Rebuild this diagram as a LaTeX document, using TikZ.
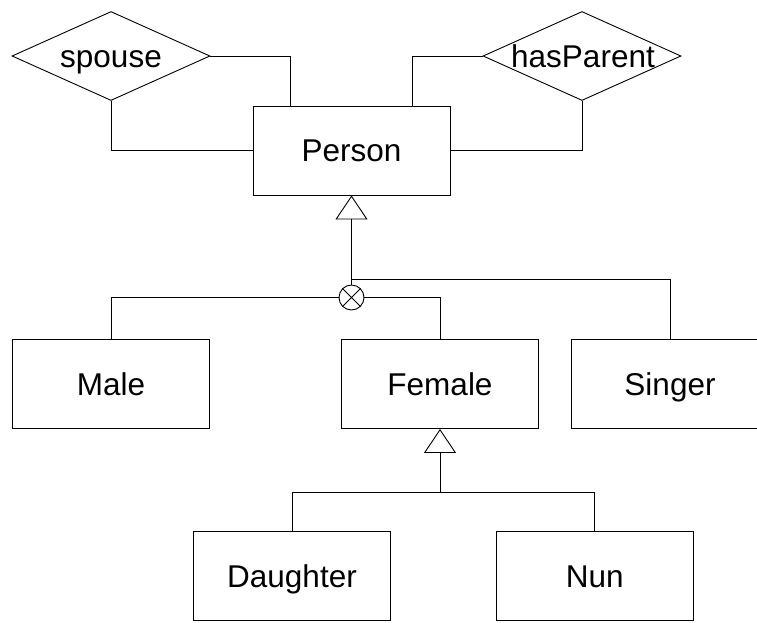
\documentclass[tikz,border=0pt]{standalone}
\usepackage{fontspec}
\setmainfont{Liberation Sans}
\usetikzlibrary{shapes.geometric,arrows.meta}
\tikzset{
  ent/.style={draw, rectangle, inner sep=0pt, minimum width=197pt, minimum height=89pt,
    text height=22.6pt, text depth=0pt},
  rel/.style={draw, diamond, inner sep=0pt, minimum width=198pt, minimum height=89pt},
  lbl/.style={inner sep=0pt, text height=22.6pt, text depth=0pt},
  gen/.style={-{Triangle[open,length=24pt,width=32pt]}}
}
\begin{document}
\begin{tikzpicture}[x=1pt,y=-1pt,line width=0.9pt,font=\fontsize{31.5}{36}\selectfont]
\useasboundingbox (0,0) rectangle (757,622);
\clip (0,0) rectangle (757,622);
% entities
\node[ent] (person) at (351.5,150.5) {Person};
\node[ent] (male) at (111,384) {Male};
\node[ent] (female) at (440,384) {Female};
\node[ent] (singer) at (670,384) {Singer};
\node[ent] (daughter) at (292,576) {Daughter};
\node[ent] (nun) at (594.7,576) {Nun};
% relationships
\node[rel] (sp) at (111,56) {};
\node[lbl] (spt) at (sp) {spouse};
\node[rel] (hp) at (582,56) {};
\node[lbl] (hpt) at (583,56) {hasParent};
% relationship connectors
\draw (sp.east) -| ([xshift=38pt]person.north west);
\draw (sp.south) |- (person.west);
\draw (hp.west) -| ([xshift=-38pt]person.north east);
\draw (hp.south) |- (person.east);
% disjoint generalization of Person
\node[draw, circle, inner sep=0pt, minimum size=25pt] (circ) at (351.5,297.5) {};
\draw (circ.45) -- (circ.225) (circ.135) -- (circ.315);
\draw[gen] (circ.north) -- (person.south);
\coordinate (sj) at (351.5,279);
\draw (singer.north) |- (sj);
\draw (male.north) |- (circ.west);
\draw (female.north) |- (circ.east);
% generalization of Female
\coordinate (fj) at (440,492);
\draw[gen] (fj) -- (female.south);
\draw (daughter.north) |- (fj);
\draw (nun.north) |- (fj);
\end{tikzpicture}
\end{document}
